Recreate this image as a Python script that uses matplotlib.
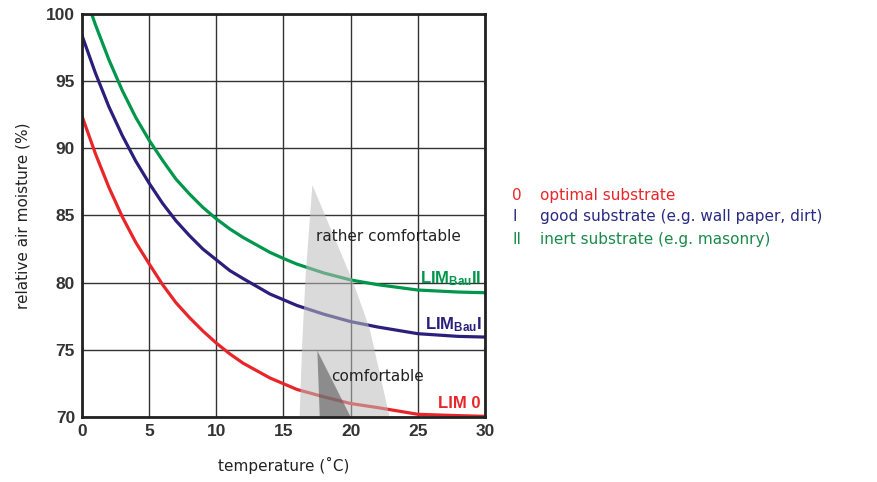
import matplotlib
matplotlib.use('Agg')
import matplotlib.pyplot as plt
from matplotlib.patches import Polygon

plt.rcParams['mathtext.fontset'] = 'custom'
plt.rcParams['mathtext.bf'] = 'Liberation Sans:bold'
plt.rcParams['mathtext.rm'] = 'Liberation Sans'

# curves (temperature in C, rel. humidity in %)
t_lim0 = [0, 1, 2, 3, 4, 5, 6, 7, 8, 9, 10, 11, 12, 14, 16, 18, 20, 22, 25, 28, 30]
rh_lim0 = [92.4, 89.6, 87.1, 84.9, 83.0, 81.4, 79.85, 78.5, 77.4, 76.4, 75.5, 74.7,
           74.0, 72.9, 72.05, 71.5, 71.0, 70.7, 70.2, 70.1, 70.05]

t_lim1 = [0, 1, 2, 3, 4, 5, 6, 7, 8, 9, 10, 11, 12, 14, 16, 18, 20, 22, 25, 28, 30]
rh_lim1 = [98.4, 95.6, 93.1, 90.95, 89.05, 87.4, 85.9, 84.6, 83.5, 82.5, 81.7, 80.9,
           80.3, 79.15, 78.3, 77.65, 77.1, 76.7, 76.2, 76.0, 75.95]

t_lim2 = [0.72, 1, 2, 3, 4, 5, 6, 7, 8, 9, 10, 11, 12, 14, 15, 16, 18, 20, 22, 25, 28, 30]
rh_lim2 = [100, 99.2, 96.6, 94.3, 92.3, 90.6, 89.1, 87.7, 86.6, 85.6, 84.75, 84.0,
           83.36, 82.25, 81.8, 81.38, 80.72, 80.2, 79.85, 79.45, 79.3, 79.25]

# comfort zones (outline points)
rather_t = [16.2, 16.4, 16.65, 17.15, 20.17, 21.41, 22.9]
rather_rh = [70, 75.6, 80.57, 87.27, 80.07, 76.6, 70]
comf_t = [17.7, 17.52, 20.0]
comf_rh = [70, 74.93, 70]

legend_keys = ['0', 'I', 'II']
legend_text = ['optimal substrate', 'good substrate (e.g. wall paper, dirt)',
               'inert substrate (e.g. masonry)']

red = '#e8262a'
navy = '#2b1f7c'
green = '#00964b'

fig = plt.figure(figsize=(8.77, 4.82), dpi=100)
ax = fig.add_axes([0.0935, 0.1349, 0.4595, 0.8361])

ax.plot(t_lim0, rh_lim0, color=red, lw=2.3, zorder=3, solid_joinstyle='round')
ax.plot(t_lim1, rh_lim1, color=navy, lw=2.3, zorder=3, solid_joinstyle='round')
ax.plot(t_lim2, rh_lim2, color=green, lw=2.3, zorder=3, solid_joinstyle='round')

ax.add_patch(Polygon(list(zip(rather_t, rather_rh)), closed=True,
                     facecolor='#bcbcbc', alpha=0.55, edgecolor='none', zorder=4))
ax.add_patch(Polygon(list(zip(comf_t, comf_rh)), closed=True,
                     facecolor='#585858', alpha=0.6, edgecolor='none', zorder=5))

ax.set_xlim(0, 30)
ax.set_ylim(70, 100)
ax.set_xticks(range(0, 31, 5))
ax.set_yticks(range(70, 101, 5))
ax.grid(True, color='#333333', lw=1.0, zorder=1)
ax.set_axisbelow(True)
for s in ax.spines.values():
    s.set_linewidth(2.0)
    s.set_color('#222222')
    s.set_zorder(6)
ax.tick_params(length=0, pad=5, labelsize=12.5, labelcolor='#333333')
for lab in ax.get_xticklabels() + ax.get_yticklabels():
    lab.set_fontfamily('Liberation Sans')
    lab.set_fontweight('bold')

ax.set_xlabel('temperature (\u02daC)', fontsize=11, color='#222222', labelpad=13)
ax.set_ylabel('relative air moisture (%)', fontsize=11, color='#222222', labelpad=11)

ax.text(22.8, 83.4, 'rather comfortable', fontsize=11, color='#222222',
        ha='center', va='center', zorder=7)
ax.text(22.0, 73.0, 'comfortable', fontsize=11, color='#222222',
        ha='center', va='center', zorder=7)

ax.text(29.75, 80.3, r'$\mathbf{LIM_{Bau}II}$', fontsize=12, color=green,
        ha='right', va='center', zorder=7)
ax.text(29.75, 76.9, r'$\mathbf{LIM_{Bau}I}$', fontsize=12, color=navy,
        ha='right', va='center', zorder=7)
ax.text(29.7, 71.0, 'LIM 0', fontsize=12, color=red, fontweight='bold',
        family='Liberation Sans', ha='right', va='center', zorder=7)

leg_colors = [red, '#2a2a80', '#1a8a4a']
leg_y = [0.595, 0.551, 0.503]
for key, txt, c, y in zip(legend_keys, legend_text, leg_colors, leg_y):
    fig.text(0.584, y, key, fontsize=11, color=c, va='center')
    fig.text(0.616, y, txt, fontsize=11, color=c, va='center')

fig.savefig('out.png', dpi=100)
